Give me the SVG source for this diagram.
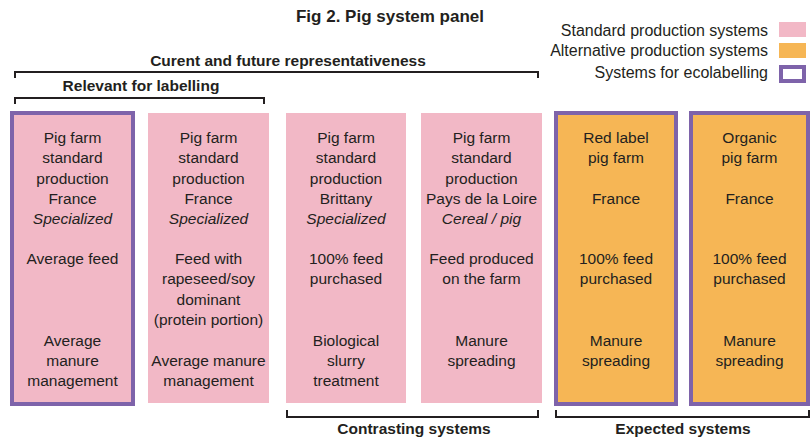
<svg xmlns="http://www.w3.org/2000/svg" width="811" height="439" viewBox="0 0 811 439">
<style>
text{font-family:"Liberation Sans",Arial,sans-serif;fill:#231f20}
.t{font-size:17px;font-weight:bold}
.h{font-size:15.5px;font-weight:bold}
.lg{font-size:16px;text-anchor:end}
.b{font-size:15.5px;text-anchor:middle}
.i{font-style:italic}
.std{fill:#f2b8c6}
.alt{fill:#f6b655}
.eco{stroke:#7e63aa;stroke-width:4}
.br{fill:none;stroke:#231f20;stroke-width:2}
</style>
<text class="t" x="390" y="22" text-anchor="middle">Fig 2. Pig system panel</text>
<g id="legend">
<text class="lg" x="768" y="36">Standard production systems</text>
<rect class="std" x="779" y="22" width="27" height="15"/>
<text class="lg" x="768" y="56">Alternative production systems</text>
<rect class="alt" x="779" y="43" width="27" height="15"/>
<text class="lg" x="768" y="78">Systems for ecolabelling</text>
<rect x="781" y="67" width="23" height="14" fill="#fff" class="eco"/>
</g>
<g id="connectors">
<path class="br" d="M15 78V72H538V78"/>
<text class="h" x="288" y="66" text-anchor="middle">Curent and future representativeness</text>
<path class="br" d="M15 104V98H264V104"/>
<text class="h" x="141" y="91" text-anchor="middle">Relevant for labelling</text>
<path class="br" d="M287 410V417H538V410"/>
<text class="h" x="414" y="434" text-anchor="middle">Contrasting systems</text>
<path class="br" d="M556 410V417H809V410"/>
<text class="h" x="683" y="434" text-anchor="middle">Expected systems</text>
</g>
<g id="node1">
<rect class="std eco" x="12" y="113" width="121" height="291"/>
<text class="b" x="72.5" y="143">Pig farm</text>
<text class="b" x="72.5" y="163">standard</text>
<text class="b" x="72.5" y="184">production</text>
<text class="b" x="72.5" y="204">France</text>
<text class="b i" x="72.5" y="224">Specialized</text>
<text class="b" x="72.5" y="264">Average feed</text>
<text class="b" x="72.5" y="346">Average</text>
<text class="b" x="72.5" y="366">manure</text>
<text class="b" x="72.5" y="386">management</text>
</g>
<g id="node2">
<rect class="std" x="148" y="113" width="121" height="290"/>
<text class="b" x="208.5" y="143">Pig farm</text>
<text class="b" x="208.5" y="163">standard</text>
<text class="b" x="208.5" y="184">production</text>
<text class="b" x="208.5" y="204">France</text>
<text class="b i" x="208.5" y="224">Specialized</text>
<text class="b" x="208.5" y="264">Feed with</text>
<text class="b" x="208.5" y="284">rapeseed/soy</text>
<text class="b" x="208.5" y="305">dominant</text>
<text class="b" x="208.5" y="325">(protein portion)</text>
<text class="b" x="208.5" y="366">Average manure</text>
<text class="b" x="208.5" y="386">management</text>
</g>
<g id="node3">
<rect class="std" x="286" y="113" width="120" height="290"/>
<text class="b" x="346" y="143">Pig farm</text>
<text class="b" x="346" y="163">standard</text>
<text class="b" x="346" y="184">production</text>
<text class="b" x="346" y="204">Brittany</text>
<text class="b i" x="346" y="224">Specialized</text>
<text class="b" x="346" y="264">100% feed</text>
<text class="b" x="346" y="284">purchased</text>
<text class="b" x="346" y="346">Biological</text>
<text class="b" x="346" y="366">slurry</text>
<text class="b" x="346" y="386">treatment</text>
</g>
<g id="node4">
<rect class="std" x="421" y="113" width="121" height="290"/>
<text class="b" x="481.5" y="143">Pig farm</text>
<text class="b" x="481.5" y="163">standard</text>
<text class="b" x="481.5" y="184">production</text>
<text class="b" x="481.5" y="204">Pays de la Loire</text>
<text class="b i" x="481.5" y="224">Cereal / pig</text>
<text class="b" x="481.5" y="264">Feed produced</text>
<text class="b" x="481.5" y="284">on the farm</text>
<text class="b" x="481.5" y="346">Manure</text>
<text class="b" x="481.5" y="366">spreading</text>
</g>
<g id="node5">
<rect class="alt eco" x="556" y="113" width="120" height="291"/>
<text class="b" x="616" y="143">Red label</text>
<text class="b" x="616" y="163">pig farm</text>
<text class="b" x="616" y="204">France</text>
<text class="b" x="616" y="264">100% feed</text>
<text class="b" x="616" y="284">purchased</text>
<text class="b" x="616" y="346">Manure</text>
<text class="b" x="616" y="366">spreading</text>
</g>
<g id="node6">
<rect class="alt eco" x="691" y="113" width="117" height="291"/>
<text class="b" x="749.5" y="143">Organic</text>
<text class="b" x="749.5" y="163">pig farm</text>
<text class="b" x="749.5" y="204">France</text>
<text class="b" x="749.5" y="264">100% feed</text>
<text class="b" x="749.5" y="284">purchased</text>
<text class="b" x="749.5" y="346">Manure</text>
<text class="b" x="749.5" y="366">spreading</text>
</g>
</svg>
